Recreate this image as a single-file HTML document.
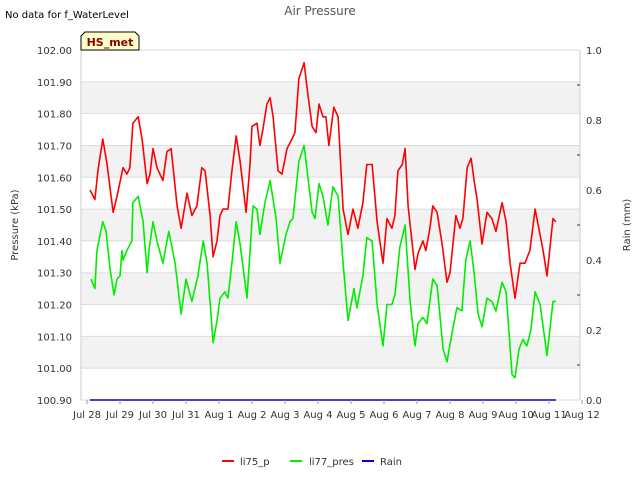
<!DOCTYPE html>
<html><head><meta charset="utf-8"><style>
body{margin:0;background:#fff;font-family:"Liberation Sans","DejaVu Sans",sans-serif}
svg text{font-family:"DejaVu Sans","Liberation Sans",sans-serif}
</style></head><body>
<svg id="c" width="640" height="480" xmlns="http://www.w3.org/2000/svg">
<text x="5" y="18" font-size="10" fill="#000">No data for f_WaterLevel</text>
<text x="320" y="15" font-size="12" fill="#555" text-anchor="middle">Air Pressure</text>
<g id="grid"></g>
<g id="series"></g>
<g id="axes"></g>
<g>
<path d="M81,50 L81,36 L85,32 L135,32 L139,36 L139,50 Z" fill="#ffffcc" stroke="#000" stroke-width="1"/>
<text x="110" y="46" font-size="11" font-weight="bold" fill="#8b0000" text-anchor="middle">HS_met</text>
</g>
<text transform="translate(18,225) rotate(-90)" font-size="10" fill="#333" text-anchor="middle">Pressure (kPa)</text>
<text transform="translate(630,225) rotate(-90)" font-size="10" fill="#333" text-anchor="middle">Rain (mm)</text>
<g>
<g><line x1="222" y1="461" x2="234" y2="461" stroke="#ff0000" stroke-width="2"/><text x="240" y="465" font-size="10" fill="#333">li75_p</text></g>
<g><line x1="290" y1="461" x2="302" y2="461" stroke="#00ee00" stroke-width="2"/><text x="309" y="465" font-size="10" fill="#333">li77_pres</text></g>
<g><line x1="362" y1="461" x2="374" y2="461" stroke="#0000cc" stroke-width="2"/><text x="380" y="465" font-size="10" fill="#333">Rain</text></g>
</g>
</svg>
<script>
const xTickLabels=["Jul 28","Jul 29","Jul 30","Jul 31","Aug 1","Aug 2","Aug 3","Aug 4","Aug 5","Aug 6","Aug 7","Aug 8","Aug 9","Aug 10","Aug 11","Aug 12"];
const yTicks=[100.90,101.00,101.10,101.20,101.30,101.40,101.50,101.60,101.70,101.80,101.90,102.00];
const y2Ticks=[0.0,0.2,0.4,0.6,0.8,1.0];
const redDays=[0.09,0.24,0.33,0.48,0.61,0.79,0.91,1.09,1.21,1.30,1.39,1.55,1.67,1.82,1.91,2.00,2.12,2.30,2.42,2.55,2.73,2.85,3.03,3.18,3.33,3.48,3.58,3.73,3.82,3.94,4.03,4.12,4.27,4.39,4.52,4.64,4.82,4.94,5.00,5.15,5.24,5.33,5.45,5.55,5.64,5.79,5.91,6.06,6.21,6.30,6.42,6.58,6.67,6.82,6.94,7.03,7.15,7.24,7.33,7.48,7.61,7.76,7.91,8.06,8.21,8.36,8.48,8.64,8.79,8.97,9.09,9.24,9.33,9.42,9.55,9.64,9.73,9.94,10.03,10.18,10.27,10.39,10.48,10.61,10.76,10.91,11.00,11.18,11.30,11.39,11.52,11.64,11.73,11.82,11.97,12.12,12.27,12.39,12.58,12.70,12.82,12.97,13.12,13.27,13.42,13.58,13.82,13.94,14.12,14.21];
const redVals=[101.56,101.53,101.62,101.72,101.64,101.49,101.54,101.63,101.61,101.63,101.77,101.79,101.72,101.58,101.61,101.69,101.63,101.59,101.68,101.69,101.51,101.44,101.55,101.48,101.51,101.63,101.62,101.48,101.35,101.40,101.48,101.50,101.50,101.62,101.73,101.65,101.49,101.64,101.76,101.77,101.70,101.75,101.83,101.85,101.79,101.62,101.61,101.69,101.72,101.74,101.91,101.96,101.88,101.76,101.74,101.83,101.79,101.79,101.70,101.82,101.79,101.50,101.42,101.50,101.44,101.52,101.64,101.64,101.46,101.33,101.47,101.44,101.48,101.62,101.64,101.69,101.51,101.31,101.36,101.40,101.37,101.44,101.51,101.49,101.39,101.27,101.30,101.48,101.44,101.47,101.63,101.66,101.59,101.53,101.39,101.49,101.47,101.43,101.52,101.46,101.33,101.22,101.33,101.33,101.37,101.50,101.37,101.29,101.47,101.46];
const greenDays=[0.12,0.24,0.30,0.48,0.58,0.70,0.82,0.91,1.00,1.06,1.09,1.21,1.36,1.39,1.55,1.70,1.82,1.88,2.00,2.12,2.30,2.48,2.67,2.85,3.00,3.18,3.36,3.52,3.64,3.82,3.94,4.03,4.18,4.27,4.39,4.52,4.64,4.85,5.03,5.15,5.24,5.39,5.55,5.73,5.85,6.03,6.15,6.24,6.42,6.58,6.82,6.91,7.03,7.15,7.30,7.45,7.61,7.76,7.91,8.09,8.18,8.36,8.48,8.64,8.79,8.97,9.09,9.24,9.33,9.48,9.64,9.79,9.94,10.03,10.18,10.30,10.48,10.61,10.79,10.91,11.06,11.21,11.36,11.48,11.61,11.73,11.85,11.97,12.12,12.27,12.39,12.58,12.70,12.88,12.97,13.09,13.21,13.33,13.45,13.58,13.73,13.94,14.12,14.21];
const greenVals=[101.28,101.25,101.37,101.46,101.43,101.31,101.23,101.28,101.29,101.37,101.34,101.37,101.40,101.52,101.54,101.46,101.30,101.37,101.46,101.40,101.33,101.43,101.33,101.17,101.28,101.21,101.29,101.40,101.33,101.08,101.15,101.22,101.24,101.22,101.33,101.46,101.39,101.22,101.51,101.50,101.42,101.52,101.59,101.47,101.33,101.42,101.46,101.47,101.65,101.70,101.49,101.47,101.58,101.54,101.45,101.57,101.54,101.33,101.15,101.25,101.19,101.29,101.41,101.40,101.20,101.07,101.20,101.20,101.23,101.38,101.45,101.21,101.07,101.14,101.16,101.14,101.28,101.26,101.06,101.02,101.11,101.19,101.18,101.34,101.40,101.30,101.17,101.13,101.22,101.21,101.18,101.27,101.24,100.98,100.97,101.06,101.09,101.07,101.12,101.24,101.20,101.04,101.21,101.21];
const rainDays=[0.09,14.21];
const rainVals=[0,0];

const NS="http://www.w3.org/2000/svg";
const L=81,R=580,T=50,B=400;
const xS=d=>87+d*33;
const yS=v=>B-(v-100.9)/1.1*(B-T);
const y2S=v=>B-v*(B-T);
function mk(tag,attrs,parent){const e=document.createElementNS(NS,tag);for(const k in attrs)e.setAttribute(k,attrs[k]);parent.appendChild(e);return e;}
const grid=document.getElementById('grid'),axes=document.getElementById('axes'),series=document.getElementById('series');
for(let i=0;i<yTicks.length-1;i++){
  const y1=yS(yTicks[i+1]),y0=yS(yTicks[i]);
  const r=mk('rect',{x:L,y:y1,width:R-L,height:y0-y1,fill:(i%2===1)?'#f2f2f2':'#ffffff'},grid);
  
  
}
yTicks.forEach(v=>{
  const ln=mk('line',{x1:L,x2:R,y1:yS(v),y2:yS(v),stroke:'#dddddd','stroke-width':1},grid);
  
  
  const t=mk('text',{x:72,y:yS(v)+4,'font-size':10,fill:'#333','text-anchor':'end'},axes);
  t.textContent=v.toFixed(2);
  
  
});
mk('line',{x1:L,x2:L,y1:T,y2:B,stroke:'#cccccc'},grid);
mk('line',{x1:R,x2:R,y1:T,y2:B,stroke:'#cccccc'},grid);
y2Ticks.forEach(v=>{
  const t=mk('text',{x:586,y:y2S(v)+4,'font-size':10,fill:'#333'},axes);
  t.textContent=v.toFixed(1);
  
  
});
for(let i=1;i<10;i+=2){mk('line',{x1:R-3,x2:R,y1:y2S(i/10),y2:y2S(i/10),stroke:'#333'},axes);}
xTickLabels.forEach((s,i)=>{
  mk('line',{x1:xS(i),x2:xS(i),y1:B,y2:B+4,stroke:'#999'},axes);
  const t=mk('text',{x:xS(i),y:B+18,'font-size':10,fill:'#333','text-anchor':'middle'},axes);
  t.textContent=s;
  
  
});
function line(days,vals,sc,color,name){
  const p=days.map((d,i)=>(i?'L':'M')+xS(d).toFixed(1)+','+sc(vals[i]).toFixed(1)).join(' ');
  const e=mk('path',{d:p,fill:'none',stroke:color,'stroke-width':1.6,'stroke-linejoin':'round'},series);
  
  
}
line(rainDays,rainVals,y2S,'#0000cc','rain-line');
line(greenDays,greenVals,yS,'#00ee00','li77-pres-line');
line(redDays,redVals,yS,'#ff0000','li75-p-line');
</script>
</body></html>
